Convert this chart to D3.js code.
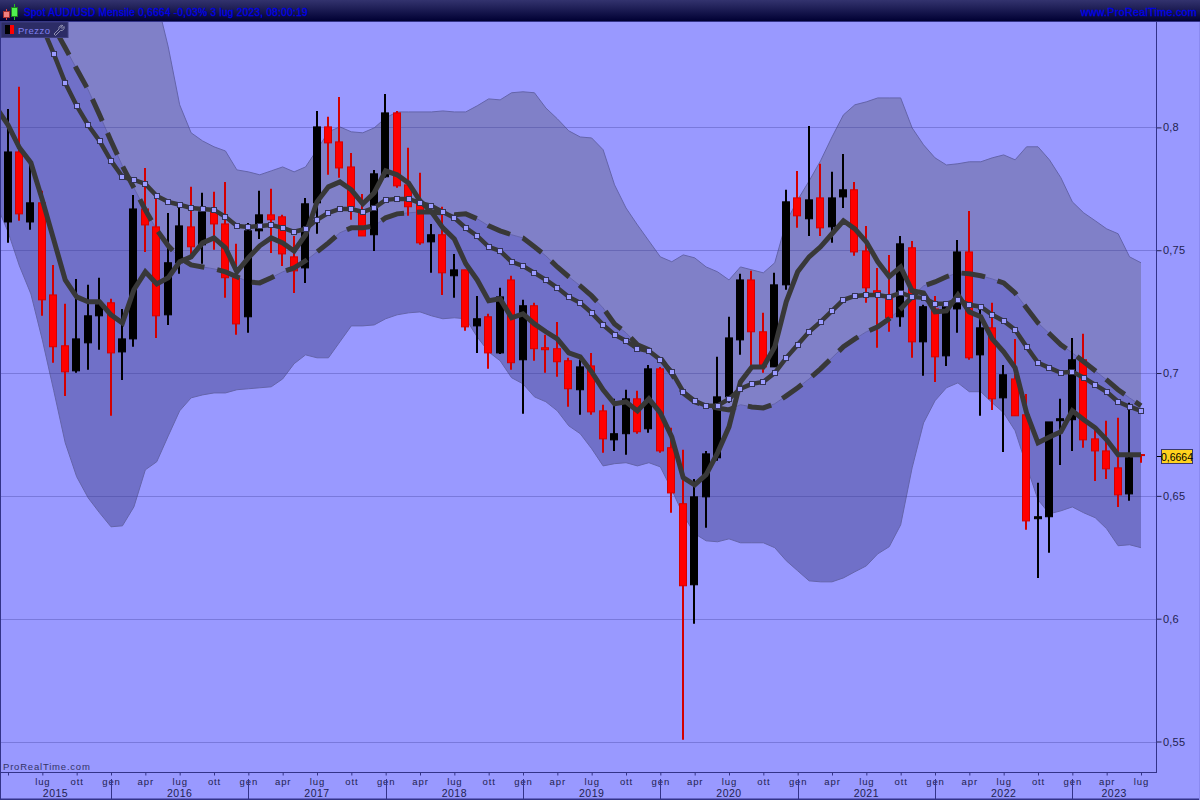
<!DOCTYPE html>
<html><head><meta charset="utf-8">
<script src="https://cdn.jsdelivr.net/npm/d3@7/dist/d3.min.js"></script>
<style>html,body{margin:0;padding:0;background:#9999ff;overflow:hidden}svg{display:block}
text{font-family:"Liberation Sans",Arial,sans-serif}</style></head><body>
<svg id="c" width="1200" height="800"></svg>
<script>
// Monthly candles, apr 2015 (index 0) to lug 2023 (index 99)
const open=[.7615,.7900,.7615,.7693,.7318,.7111,.7009,.7123,.7233,.7286,
.7086,.7139,.7668,.7595,.7237,.7449,.7595,.7522,.7656,.7607,
.7388,.7229,.7579,.7644,.7636,.7473,.7428,.7693,.8002,.7941,
.7839,.7652,.7563,.7799,.8059,.7766,.7693,.7534,.7563,.7396,
.7420,.7192,.7229,.7082,.7379,.7054,.7274,.7103,.7099,.7050,
.6932,.7029,.6846,.6728,.6753,.6895,.6773,.7017,.6696,.6468,
.6138,.6496,.6655,.6903,.7135,.7379,.7168,.7025,.7359,.7713,
.7628,.7713,.7595,.7717,.7746,.7497,.7335,.7306,.7229,.7510,
.7127,.7261,.7070,.7261,.7493,.7074,.7184,.6899,.6976,.6830,
.6407,.6415,.6806,.6810,.7054,.6732,.6683,.6614,.6508,.6668];
const close=[.7900,.7648,.7693,.7298,.7107,.7005,.7139,.7233,.7278,.7082,
.7139,.7668,.7603,.7233,.7449,.7599,.7514,.7656,.7607,.7388,
.7200,.7579,.7644,.7624,.7485,.7416,.7689,.8002,.7937,.7835,
.7677,.7558,.7811,.8059,.7762,.7677,.7530,.7563,.7408,.7420,
.7188,.7221,.7082,.7310,.7042,.7274,.7099,.7095,.7046,.6936,
.7025,.6842,.6732,.6753,.6895,.6761,.7017,.6683,.6512,.6134,
.6496,.6671,.6903,.7143,.7379,.7168,.7025,.7359,.7697,.7640,
.7705,.7591,.7713,.7746,.7493,.7347,.7326,.7225,.7526,.7127,
.7270,.7066,.7270,.7493,.7062,.7184,.6895,.6993,.6826,.6398,
.6415,.6801,.6814,.7054,.6728,.6683,.6610,.6504,.6655,.6664];
const high=[.8075,.8165,.7847,.7742,.7440,.7282,.7383,.7359,.7388,.7302,
.7261,.7725,.7835,.7717,.7652,.7677,.7758,.7734,.7738,.7778,
.7526,.7611,.7742,.7750,.7644,.7558,.7713,.8067,.8043,.8124,
.7896,.7729,.7827,.8136,.8067,.7917,.7815,.7607,.7677,.7485,
.7420,.7314,.7241,.7347,.7396,.7298,.7286,.7156,.7208,.7062,
.7054,.7082,.6871,.6895,.6932,.6928,.7033,.7025,.6777,.6688,
.6569,.6683,.7066,.7229,.7404,.7416,.7245,.7408,.7746,.7823,
.8006,.7852,.7819,.7892,.7778,.7599,.7428,.7481,.7558,.7538,
.7278,.7314,.7278,.7542,.7660,.7257,.7286,.7033,.7139,.6915,
.6553,.6801,.6895,.7143,.7160,.6769,.6806,.6818,.6879,.6670];
const low=[.7530,.7620,.7583,.7233,.7042,.6907,.7001,.7013,.7095,.6826,
.6972,.7107,.7493,.7143,.7196,.7404,.7485,.7445,.7502,.7306,
.7156,.7164,.7546,.7489,.7436,.7326,.7367,.7567,.7807,.7795,
.7624,.7558,.7497,.7795,.7754,.7640,.7522,.7408,.7318,.7306,
.7172,.7082,.7017,.7078,.7013,.6834,.7050,.7001,.6985,.6863,
.6830,.6830,.6675,.6683,.6667,.6753,.6757,.6675,.6431,.5507,
.5979,.6370,.6643,.6879,.7074,.7033,.7001,.7025,.7339,.7591,
.7558,.7558,.7530,.7672,.7477,.7286,.7103,.7168,.7188,.7062,
.6989,.6964,.7029,.7164,.7054,.6826,.6850,.6679,.6826,.6362,
.6166,.6268,.6626,.6683,.6696,.6561,.6569,.6455,.6480,.6635];

// Averages and bands start one month before the first visible candle (index -1)
const avgStart=-1;
const fastAvg=[.8079,.8010,.7917,.7856,.7705,.7542,.7379,.7310,.7290,.7290,.7237,
.7204,.7339,.7412,.7363,.7388,.7453,.7473,.7530,.7550,.7510,
.7412,.7469,.7518,.7550,.7530,.7497,.7563,.7697,.7758,.7778,
.7746,.7689,.7734,.7823,.7807,.7774,.7701,.7656,.7591,.7546,
.7445,.7379,.7294,.7302,.7225,.7241,.7200,.7168,.7139,.7082,
.7066,.7005,.6932,.6875,.6883,.6846,.6895,.6838,.6740,.6574,
.6545,.6586,.6675,.6781,.6964,.7025,.7025,.7107,.7290,.7412,
.7473,.7514,.7567,.7620,.7587,.7534,.7453,.7392,.7432,.7335,
.7326,.7249,.7253,.7318,.7249,.7229,.7139,.7086,.7021,.6838,
.6716,.6740,.6761,.6846,.6810,.6777,.6728,.6667,.6667,.6667];
// Marked average starts at index 3
const midStart=3;
const midAvg=[.8409,.8299,.8181,.8088,.8010,.7945,.7864,
.7799,.7786,.7770,.7721,.7697,.7685,.7672,.7668,.7664,.7636,
.7599,.7595,.7599,.7603,.7591,.7575,.7587,.7624,.7652,.7668,
.7668,.7656,.7672,.7705,.7709,.7709,.7693,.7681,.7656,.7632,
.7591,.7558,.7514,.7497,.7453,.7436,.7408,.7379,.7347,.7310,
.7286,.7245,.7196,.7156,.7131,.7099,.7090,.7054,.7005,.6924,
.6887,.6867,.6867,.6895,.6936,.6956,.6964,.7001,.7062,.7115,
.7168,.7208,.7253,.7298,.7314,.7318,.7318,.7310,.7326,.7310,
.7306,.7282,.7282,.7298,.7278,.7270,.7237,.7212,.7176,.7107,
.7042,.7021,.7001,.7005,.6981,.6952,.6924,.6883,.6863,.6846];
const slowAvg=[.8845,.8755,.8666,.8580,.8495,.8409,.8324,.8238,.8153,.8051,.7945,
.7843,.7754,.7664,.7583,.7518,.7469,.7440,.7432,.7424,.7412,
.7392,.7371,.7367,.7388,.7412,.7428,.7457,.7493,.7530,.7571,
.7591,.7591,.7599,.7632,.7648,.7652,.7656,.7656,.7652,.7644,
.7648,.7628,.7599,.7579,.7563,.7550,.7514,.7477,.7432,.7392,
.7355,.7314,.7265,.7200,.7164,.7115,.7095,.7062,.6997,.6919,
.6883,.6867,.6858,.6850,.6871,.6862,.6858,.6875,.6907,.6940,
.6976,.7017,.7062,.7107,.7139,.7168,.7188,.7221,.7261,.7310,
.7355,.7371,.7392,.7408,.7404,.7396,.7383,.7367,.7326,.7265,
.7204,.7160,.7115,.7082,.7046,.7009,.6972,.6932,.6899,.6867];
const upperBand=[.8850,.8850,.8850,.8850,.8850,.8850,.8850,.8850,.8850,.8850,.8850,
.8800,.8750,.8682,.8519,.8328,.8092,.7978,.7945,.7921,.7904,
.7827,.7819,.7807,.7823,.7839,.7819,.7839,.7909,.7982,.8002,
.7982,.7978,.7998,.8039,.8063,.8063,.8063,.8063,.8067,.8063,
.8063,.8088,.8116,.8112,.8141,.8145,.8141,.8079,.8035,.7986,
.7961,.7957,.7909,.7766,.7672,.7603,.7538,.7473,.7453,.7481,
.7469,.7432,.7412,.7379,.7432,.7420,.7408,.7449,.7615,.7705,
.7782,.7864,.7961,.8051,.8092,.8104,.8120,.8120,.8120,.7998,
.7929,.7876,.7847,.7852,.7860,.7860,.7876,.7888,.7868,.7921,
.7921,.7868,.7795,.7697,.7652,.7620,.7587,.7567,.7473,.7449];
const lowerBand=[.7685,.7575,.7436,.7322,.7135,.6928,.6716,.6578,.6492,.6431,.6374,
.6378,.6455,.6606,.6639,.6744,.6846,.6899,.6911,.6919,.6919,
.6932,.6936,.6940,.6944,.6976,.7038,.7074,.7062,.7062,.7127,
.7192,.7192,.7196,.7221,.7237,.7245,.7249,.7233,.7221,.7225,
.7221,.7147,.7086,.7050,.6981,.6956,.6903,.6883,.6846,.6785,
.6753,.6692,.6622,.6631,.6635,.6622,.6635,.6618,.6525,.6423,
.6346,.6317,.6313,.6325,.6309,.6309,.6309,.6289,.6236,.6195,
.6154,.6150,.6150,.6166,.6191,.6215,.6264,.6293,.6382,.6614,
.6797,.6887,.6940,.6960,.6924,.6924,.6879,.6838,.6765,.6622,
.6484,.6427,.6439,.6455,.6431,.6411,.6366,.6297,.6301,.6289];

const priceTicks=[.55,.6,.65,.7,.75,.8];
const lastPrice=.6664;
const titleText="Spot AUD/USD Mensile 0,6664 -0,03% 3 lug 2023, 08:00:19";
const siteText="www.ProRealTime.com";
const legendText="Prezzo";
const brandText="ProRealTime.com";
const monthNames={0:"gen",3:"apr",6:"lug",9:"ott"};
const firstMonth=3, firstYear=2015; // index 0 = apr 2015
const years=[2015,2016,2017,2018,2019,2020,2021,2022,2023];

const W=1200,H=800,plotL=1,plotR=1156,plotT=22,plotB=772;
const x=d3.scaleLinear().domain([0,99]).range([8,1141]);
const y=d3.scaleLinear().domain([.55,.8]).range([741.5,127.4]);
const svg=d3.select("#c");
const defs=svg.append("defs");
const grad=defs.append("linearGradient").attr("id","hdr").attr("x1",0).attr("x2",0).attr("y1",0).attr("y2",1);
grad.append("stop").attr("offset",0).attr("stop-color","#33336e");
grad.append("stop").attr("offset",1).attr("stop-color","#000033");
defs.append("clipPath").attr("id","plot").append("rect").attr("x",plotL).attr("y",plotT).attr("width",plotR-plotL).attr("height",plotB-plotT);

svg.append("rect").attr("width",W).attr("height",H).attr("fill","#9999ff");
const g=svg.append("g").attr("clip-path","url(#plot)");

const seq=(arr,start)=>arr.map((v,k)=>({i:k+start,v}));
const bandRows=slowAvg.map((v,k)=>({i:k+avgStart,slow:v,up:upperBand[k],lo:lowerBand[k]}));
g.append("path").datum(bandRows).attr("fill","#8080c8").attr("stroke","none")
 .attr("d",d3.area().x(d=>x(d.i)).y0(d=>y(d.slow)).y1(d=>y(d.up)));
g.append("path").datum(bandRows).attr("fill","#7070c8").attr("stroke","none")
 .attr("d",d3.area().x(d=>x(d.i)).y0(d=>y(d.lo)).y1(d=>y(d.slow)));
const thin=(acc)=>g.append("path").datum(bandRows).attr("fill","none").attr("stroke","#6464aa").attr("stroke-width",1)
 .attr("d",d3.line().x(d=>x(d.i)).y(acc));
thin(d=>y(d.up));thin(d=>y(d.lo));thin(d=>y(d.slow));

// grid
g.append("g").selectAll("line").data(priceTicks).join("line")
 .attr("x1",plotL).attr("x2",plotR).attr("y1",d=>Math.round(y(d))+.5).attr("y2",d=>Math.round(y(d))+.5)
 .attr("stroke","#33338a").attr("stroke-opacity",.3).attr("stroke-width",1);

// candles
const candles=open.map((o,i)=>({i,o,c:close[i],h:high[i],l:low[i],up:close[i]>o}));
const col=d=>d.up?"#000000":"#ff0000";
const wick=d=>d.up?"#000000":"#d40000";
const cx=i=>Math.round(x(i)-.4);
const cg=g.append("g");
cg.selectAll("line").data(candles).join("line")
 .attr("x1",d=>cx(d.i)).attr("x2",d=>cx(d.i))
 .attr("y1",d=>y(d.h)).attr("y2",d=>y(d.l)).attr("stroke",wick).attr("stroke-width",2);
cg.selectAll("rect").data(candles).join("rect")
 .attr("x",d=>cx(d.i)-3.5).attr("width",7)
 .attr("y",d=>y(Math.max(d.o,d.c))).attr("height",d=>Math.abs(y(d.o)-y(d.c)))
 .attr("fill",col).attr("stroke",wick).attr("stroke-width",1);

// averages
const ln=d3.line().x(d=>x(d.i)).y(d=>y(d.v));
const slowPath=g.append("path").datum(seq(slowAvg,avgStart)).attr("fill","none").attr("stroke","#383838").attr("stroke-width",5)
 .attr("d",ln);
// dash phase: anchor a dash start at the month where one starts in the picture
const dashOn=24,dashOff=13,dashPeriod=dashOn+dashOff,dashAnchorIndex=36;
{const n=slowPath.node();let a=0,b=n.getTotalLength();const tx=x(dashAnchorIndex)-3;
 for(let k=0;k<30;k++){const m=(a+b)/2;if(n.getPointAtLength(m).x<tx)a=m;else b=m;}
 const L=a;slowPath.attr("stroke-dasharray",dashOn+" "+dashOff).attr("stroke-dashoffset",((-L%dashPeriod)+dashPeriod)%dashPeriod);}
g.append("path").datum(seq(fastAvg,avgStart)).attr("fill","none").attr("stroke","#383838").attr("stroke-width",5).attr("d",ln);
g.append("path").datum(seq(midAvg,midStart)).attr("fill","none").attr("stroke","#383838").attr("stroke-width",4.5).attr("d",ln);
g.append("g").selectAll("rect").data(seq(midAvg,midStart).slice(1)).join("rect")
 .attr("x",d=>Math.round(x(d.i))-2.5).attr("y",d=>Math.round(y(d.v))-2.5).attr("width",5).attr("height",5)
 .attr("fill","#9c9cff").attr("stroke","#333355").attr("stroke-width",1);

// price axis
const axisCol="#333388",txtCol="#222250";
const yAxis=d3.axisRight(y).tickValues(priceTicks).tickSize(5).tickPadding(1.5)
 .tickFormat(d=>String(d).replace(".",","));
const ya=svg.append("g").attr("transform",`translate(${plotR+.5},0)`).call(yAxis);
ya.select(".domain").remove();
ya.selectAll("line").attr("stroke",txtCol);
ya.selectAll("text").attr("fill",txtCol).attr("font-size",11).attr("letter-spacing",.2);
svg.append("line").attr("x1",plotR+.5).attr("x2",plotR+.5).attr("y1",plotT).attr("y2",plotB).attr("stroke",axisCol);

// last price tag
const ly=Math.round(y(lastPrice));
svg.append("line").attr("x1",plotR+1).attr("x2",1161).attr("y1",ly+.5).attr("y2",ly+.5).attr("stroke","#000");
svg.append("rect").attr("x",1161.5).attr("y",ly-6.5).attr("width",31).attr("height",14).attr("fill","#ffd21e").attr("stroke","#3a3a66");
svg.append("text").attr("x",1177).attr("y",ly+4.5).attr("text-anchor","middle").attr("font-size",10.5).attr("fill","#000").text(String(lastPrice).replace(".",","));

// time axis
const idx=d3.range(0,100).filter(i=>(i+firstMonth)%3===0);
const xAxis=d3.axisBottom(x).tickValues(idx).tickSize(3).tickPadding(2.5)
 .tickFormat(i=>i===0?"":monthNames[(i+firstMonth)%12]);
const xa=svg.append("g").attr("transform",`translate(0,${plotB+.5})`).call(xAxis);
xa.select(".domain").remove();
xa.selectAll("line").attr("stroke",axisCol);
xa.selectAll("text").attr("fill",txtCol).attr("font-size",9.5).attr("letter-spacing",.9);
svg.append("line").attr("x1",0).attr("x2",plotR+1).attr("y1",plotB+.5).attr("y2",plotB+.5).attr("stroke",axisCol);
const janIdx=years.map(yr=>(yr-firstYear)*12-firstMonth);
const segEdge=k=>k===0?0:x(janIdx[k]);
years.forEach((yr,k)=>{
  const a=segEdge(k),b=k<years.length-1?segEdge(k+1):plotR;
  svg.append("text").attr("x",(a+b)/2).attr("y",796.5).attr("text-anchor","middle").attr("font-size",10.5)
   .attr("letter-spacing",.5).attr("fill",txtCol).text(yr);
  if(k>0) svg.append("line").attr("x1",Math.round(a)+.5).attr("x2",Math.round(a)+.5).attr("y1",779).attr("y2",799).attr("stroke",axisCol);
});
svg.append("text").attr("x",3).attr("y",770).attr("font-size",9.5).attr("letter-spacing",.8).attr("fill","#333366").text(brandText);

// frame
svg.append("rect").attr("x",0).attr("y",21).attr("width",1).attr("height",H-21).attr("fill",axisCol);
svg.append("rect").attr("x",0).attr("y",798.5).attr("width",W).attr("height",1.5).attr("fill",axisCol);
svg.append("rect").attr("x",W-1).attr("y",21).attr("width",1).attr("height",H-21).attr("fill","#8a8af0");

// header
svg.append("rect").attr("width",W).attr("height",21).attr("fill","url(#hdr)");
svg.append("rect").attr("y",21).attr("width",W).attr("height",1).attr("fill",axisCol);
const ic=svg.append("g");
ic.append("line").attr("x1",6.5).attr("x2",6.5).attr("y1",9).attr("y2",20).attr("stroke","#e04040");
ic.append("rect").attr("x",3.5).attr("y",11.5).attr("width",6).attr("height",6).attr("fill","#f08080").attr("stroke","#a03030");
ic.append("line").attr("x1",14.5).attr("x2",14.5).attr("y1",4).attr("y2",20).attr("stroke","#20c020");
ic.append("rect").attr("x",11.5).attr("y",7.5).attr("width",6).attr("height",9).attr("fill","#50f050").attr("stroke","#208020");
svg.append("text").attr("x",24).attr("y",16).attr("font-size",10).attr("letter-spacing",.31).attr("fill","#0000e8").attr("stroke","#0000e8").attr("stroke-width",.3).text(titleText);
svg.append("text").attr("x",1197).attr("y",16).attr("text-anchor","end").attr("font-size",10.7).attr("letter-spacing",.3).attr("fill","#0000e8").attr("stroke","#0000e8").attr("stroke-width",.3).text(siteText);

// legend
svg.append("rect").attr("x",1).attr("y",22).attr("width",67).attr("height",15.5).attr("fill","#2c2c66").attr("stroke","#3f3f80");
svg.append("rect").attr("x",5).attr("y",25).attr("width",5).attr("height",9).attr("fill","#000");
svg.append("rect").attr("x",10).attr("y",25).attr("width",4).attr("height",9).attr("fill","#ff0000");
svg.append("text").attr("x",18).attr("y",33.5).attr("font-size",9.5).attr("letter-spacing",.5).attr("fill","#8080f0").text(legendText);
svg.append("path").attr("d","M63 25.5a3 3 0 0 0-4 3.5l-5 5 1.5 1.5 5-5a3 3 0 0 0 3.5-4l-2 2-1.5-1.5z").attr("fill","none").attr("stroke","#9a9ab8").attr("stroke-width",.9);
</script></body></html>
